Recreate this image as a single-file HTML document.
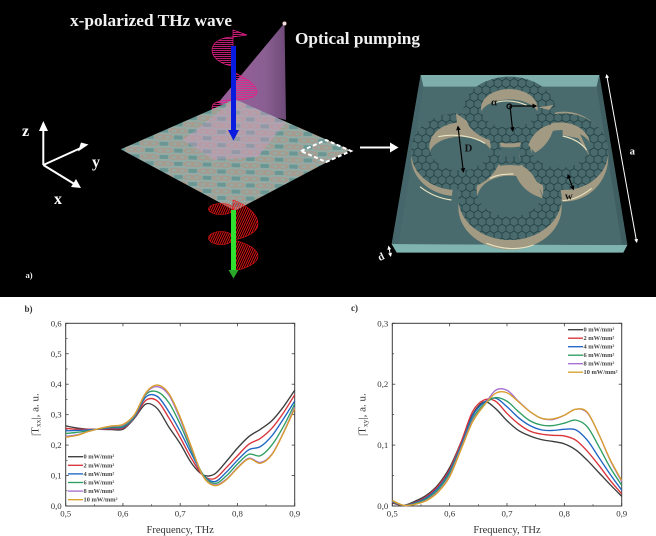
<!DOCTYPE html>
<html lang="en">
<head>
<meta charset="utf-8">
<title>THz metasurface transmission figure</title>
<style>
html,body{margin:0;padding:0;background:#fff;}
svg{display:block;filter:blur(0.3px);}
text{font-family:"Liberation Serif",serif;}
</style>
</head>
<body>
<svg id="figure" xmlns="http://www.w3.org/2000/svg" width="656" height="536" viewBox="0 0 656 536">
<defs>
  <pattern id="tile" patternUnits="userSpaceOnUse" width="1" height="1" patternTransform="matrix(14.4 -6.25 14.4 6.95 120.7 149.3)">
    <rect width="1" height="1" fill="#94aaa5"/>
    <path d="M0 0L0.3 0L0 0.3Z M1 0L1 0.3L0.7 0Z M0 1L0 0.7L0.3 1Z M1 1L0.7 1L1 0.7Z" fill="#6a9794"/>
    <circle cx="0.37" cy="0.37" r="0.21" fill="none" stroke="#a89a8d" stroke-width="0.15"/>
    <circle cx="0.63" cy="0.63" r="0.21" fill="none" stroke="#a89a8d" stroke-width="0.15"/>
  </pattern>
  <pattern id="hex" patternUnits="userSpaceOnUse" width="24" height="41.6">
    <rect width="24" height="41.6" fill="#4a6b6d"/>
    <path d="M0 6.9L12 0L24 6.9V20.8L12 27.7L0 20.8Z M12 27.7V41.6 M12 0" fill="none" stroke="#1c3a3e" stroke-width="2.2"/>
  </pattern>
  <pattern id="pinkHatch" patternUnits="userSpaceOnUse" width="3" height="2">
    <rect width="3" height="0.8" fill="#e8208a"/>
  </pattern>
  <pattern id="redHatch" patternUnits="userSpaceOnUse" width="2" height="2" patternTransform="rotate(25)">
    <rect width="0.9" height="2" fill="#f01414"/>
  </pattern>
  <linearGradient id="coneFill" x1="0" x2="1" y1="0" y2="0">
    <stop offset="0" stop-color="#9a5f9c"/>
    <stop offset="0.7" stop-color="#8a5f92"/>
    <stop offset="1" stop-color="#6e4a78"/>
  </linearGradient>
  <marker id="blackTip" markerWidth="4" markerHeight="4" refX="3" refY="2" orient="auto-start-reverse"><path d="M0 0L4 2L0 4Z" fill="#000"/></marker>
  <marker id="whiteTip" markerWidth="4" markerHeight="4" refX="3" refY="2" orient="auto-start-reverse"><path d="M0 0L4 2L0 4Z" fill="#fff"/></marker>
</defs>

<rect x="0" y="0" width="656" height="297" fill="#000"/>

<g stroke="#fff" stroke-width="2" fill="#fff">
  <line x1="43.3" y1="165" x2="43.3" y2="126"/><path d="M39 131L43.3 121L48 131Z" stroke="none"/>
  <line x1="43.3" y1="165" x2="83" y2="147"/><path d="M78 151.500L88.500 144.500L81 142.500Z" stroke="none"/>
  <line x1="43.3" y1="165" x2="76" y2="185"/><path d="M71 187L81 188L76 179Z" stroke="none"/>
</g>
<g font-weight="700" fill="#fff" font-size="16">
  <text x="22" y="136">z</text>
  <text x="92" y="167">y</text>
  <text x="54" y="204">x</text>
</g>
<text x="70" y="26" font-size="16.500" font-weight="700" fill="#f2f2f2" textLength="162" lengthAdjust="spacingAndGlyphs">x-polarized THz wave</text>
<text x="295" y="44" font-size="16.500" font-weight="700" fill="#f2f2f2" textLength="125" lengthAdjust="spacingAndGlyphs">Optical pumping</text>
<text x="25.500" y="278" font-size="8.500" font-weight="700" fill="#eee">a)</text>

<path d="M284.500 23L286 120L218 103Z" fill="url(#coneFill)"/>
<circle cx="284.500" cy="23.500" r="2" fill="#f5dcdc"/>

<g stroke="#e8208a" stroke-width="0.7">
  <path d="M233 37C222 37 212 42 212 50C212 58 222 65 233 66Z" fill="url(#pinkHatch)"/>
  <path d="M233 30L247 35L233 37Z" fill="url(#pinkHatch)"/>
  <path d="M233 72C246 78 257 85 257 92C257 97 246 100 233 100Z" fill="url(#pinkHatch)"/>
  <path d="M233 100C222 100 212 102 212 107C212 115 222 124 233 127Z" fill="url(#pinkHatch)"/>
</g>

<polygon points="120.700,149.300 235,99.300 350,150 235,210.700" fill="url(#tile)"/>
<polygon points="183,140 235,99.300 286,122 258,157 214,160" fill="#d79ac8" opacity="0.38"/>
<polygon points="301,151 326,140 351,151 326,162" fill="none" stroke="#fff" stroke-width="2" stroke-dasharray="4 2.500"/>

<g stroke="#f01414" stroke-width="0.6">
  <path d="M233 200C248 205 258 215 258 224C258 232 246 238 233 240Z" fill="url(#redHatch)"/>
  <ellipse cx="221" cy="209" rx="12.500" ry="5.500" fill="url(#redHatch)"/>
  <ellipse cx="221" cy="238" rx="12.500" ry="6.500" fill="url(#redHatch)"/>
  <path d="M233 240C248 243 258 250 258 256C258 263 246 269 233 271Z" fill="url(#redHatch)"/>
</g>

<g>
  <rect x="231" y="46" width="5" height="86" fill="#0a1be0"/>
  <path d="M228 130L239 130L233.500 140.500Z" fill="#0a1be0"/>
</g>
<g>
  <rect x="231" y="210" width="5" height="60" fill="#2fe02f"/>
  <path d="M228.500 270L238.500 270L233.500 278.500Z" fill="#2aa82a"/>
</g>

<g>
  <line x1="360" y1="147.500" x2="393" y2="147.500" stroke="#fff" stroke-width="2"/>
  <path d="M390 142.500L398.500 147.500L390 152.500Z" fill="#fff"/>
</g>

<g transform="translate(370 30) scale(0.33333)">
  <polygon points="152,135 688,135 772,645 65,642" fill="#4a6b6d"/>
  <polygon points="152,135 688,135 680,170 160,170" fill="#7eaeac"/>
  <polygon points="152,135 160,170 85,642 65,642" fill="#45666a"/>
  <polygon points="688,135 680,170 755,642 772,645" fill="#3f5f62"/>
  <polygon points="65,642 772,645 760,668 80,668" fill="#80b4b1"/>

  <g fill="#a39a83">
    <ellipse cx="418" cy="252" rx="138" ry="100"/>
    <ellipse cx="258" cy="380" rx="135" ry="118"/>
    <ellipse cx="582" cy="380" rx="133" ry="135"/>
    <ellipse cx="420" cy="532" rx="155" ry="127"/>
  </g>
  <g fill="#4a6b6d">
    <ellipse cx="418" cy="258" rx="88" ry="50"/>
    <ellipse cx="272" cy="378" rx="95" ry="58"/>
    <ellipse cx="575" cy="358" rx="90" ry="58"/>
    <ellipse cx="420" cy="505" rx="98" ry="68"/>
  </g>
  <g fill="url(#hex)" fill-rule="evenodd">
    <path d="M280 240a138 100 0 1 0 276 0a138 100 0 1 0 -276 0Z M333 235a85 58 0 1 0 170 0a85 58 0 1 0 -170 0Z"/>
    <path d="M123 365a135 115 0 1 0 270 0a135 115 0 1 0 -270 0Z M178 350a92 72 0 1 0 184 0a92 72 0 1 0 -184 0Z"/>
    <path d="M449 365a133 115 0 1 0 266 0a133 115 0 1 0 -266 0Z M480 345a90 68 0 1 0 180 0a90 68 0 1 0 -180 0Z"/>
    <path d="M265 505a155 125 0 1 0 310 0a155 125 0 1 0 -310 0Z M320 480a100 80 0 1 0 200 0a100 80 0 1 0 -200 0Z"/>
  </g>
  <g fill="#a39a83">
    <path d="M475 345C490 305 520 285 553 282C548 325 520 355 495 368Z"/>
    <path d="M430 410C470 395 500 440 518 505C470 490 440 460 430 410Z"/>
    <path d="M258 250L290 272L305 312L262 290Z"/>
    <path d="M578 285L625 300L660 380L625 325L578 315Z"/>
    <path d="M550 225L505 232L538 240Z"/>
  </g>
  <g fill="none" stroke="#e8e2c0" stroke-width="3.500">
    <path d="M205 320C250 310 310 318 345 340"/>
    <path d="M578 318C610 325 635 340 650 360"/>
    <path d="M370 220C400 208 440 212 470 226"/>
    <path d="M360 445C385 432 410 432 430 432"/>
    <path d="M350 640C400 660 450 660 490 645"/>
    <path d="M150 470C175 490 205 505 245 510"/>
    <path d="M578 512C610 510 640 495 665 475"/>
  </g>
  <path d="M248 478L268 478L262 512L244 512Z" fill="#4a6b6d"/>

  <g fill="none" stroke="#000" stroke-width="3.500">
    <line x1="264" y1="290" x2="280" y2="425" marker-start="url(#blackTip)" marker-end="url(#blackTip)"/>
    <line x1="594" y1="435" x2="610" y2="478" marker-start="url(#blackTip)" marker-end="url(#blackTip)"/>
    <line x1="420" y1="228" x2="498" y2="228" marker-end="url(#blackTip)"/>
    <line x1="420" y1="228" x2="428" y2="302" marker-end="url(#blackTip)"/>
    <circle cx="418" cy="229" r="7"/>
  </g>
  <line x1="710" y1="135" x2="800" y2="636" stroke="#fff" stroke-width="3" marker-start="url(#whiteTip)" marker-end="url(#whiteTip)"/>
  <line x1="56" y1="650" x2="62" y2="678" stroke="#fff" stroke-width="3" marker-start="url(#whiteTip)" marker-end="url(#whiteTip)"/>
  <g font-weight="700" font-size="32">
    <text x="363" y="226" fill="#111">α</text>
    <text x="284" y="364" fill="#111">D</text>
    <text x="585" y="508" fill="#111">w</text>
    <text x="779" y="374" fill="#f2f2f2">a</text>
    <text x="24" y="690" fill="#f2f2f2" transform="rotate(-25 34 680)">d</text>
  </g>
</g>

<text x="24.500" y="312" font-size="9" font-weight="700" fill="#333">b)</text>
<text x="351" y="311" font-size="9" font-weight="700" fill="#333">c)</text>
<g id="chart-b"></g>
<g id="chart-c"></g>
</svg>

<script>
const frequencies = [0.5,0.52,0.54,0.56,0.58,0.6,0.62,0.64,0.66,0.68,0.7,0.72,0.74,0.76,0.78,0.8,0.82,0.84,0.86,0.88,0.9];
const powerLabels = ["0 mW/mm²","2 mW/mm²","4 mW/mm²","6 mW/mm²","8 mW/mm²","10 mW/mm²"];
const xTickValues = [0.5,0.6,0.7,0.8,0.9];
const txxTickValues = [0,0.1,0.2,0.3,0.4,0.5,0.6];
const txyTickValues = [0,0.1,0.2,0.3];

const txx0 = [.263,.256,.252,.252,.251,.252,.288,.335,.320,.260,.205,.140,.102,.105,.145,.190,.228,.252,.280,.325,.380];
const txx2 = [.255,.252,.252,.252,.254,.256,.290,.347,.345,.290,.225,.155,.100,.090,.125,.165,.203,.222,.255,.305,.365];
const txx4 = [.247,.248,.250,.253,.257,.259,.292,.358,.360,.310,.245,.170,.103,.080,.110,.150,.185,.195,.230,.285,.345];
const txx6 = [.238,.242,.247,.254,.260,.262,.295,.366,.375,.340,.268,.180,.103,.074,.098,.138,.170,.165,.200,.260,.335];
const txx8 = [.229,.234,.245,.255,.262,.266,.298,.370,.392,.365,.285,.188,.098,.069,.087,.126,.157,.143,.170,.240,.325];
const txx10 = [.226,.232,.245,.255,.263,.268,.300,.372,.397,.370,.292,.192,.097,.067,.085,.124,.155,.140,.168,.238,.320];

const txy0 = [.005,.001,.008,.018,.035,.063,.105,.150,.171,.160,.140,.124,.115,.109,.106,.102,.092,.075,.055,.035,.016];
const txy2 = [.006,.001,.006,.016,.033,.060,.105,.155,.174,.172,.152,.135,.123,.118,.116,.115,.108,.090,.067,.042,.020];
const txy4 = [.007,.001,.005,.014,.030,.057,.100,.148,.170,.177,.163,.145,.132,.125,.124,.126,.125,.108,.080,.052,.026];
const txy6 = [.008,.001,.004,.012,.027,.054,.097,.143,.167,.178,.172,.155,.140,.133,.132,.136,.141,.130,.098,.063,.034];
const txy8 = [.009,.001,.003,.010,.024,.050,.095,.140,.165,.190,.190,.172,.155,.144,.142,.149,.159,.153,.118,.075,.040];
const txy10 = [.009,.001,.003,.009,.023,.048,.093,.138,.165,.185,.186,.171,.155,.144,.143,.149,.159,.154,.118,.076,.042];

const seriesColors = ["#3d3d3d","#d8343a","#1f66c4","#2e9e62","#a56fd0","#d9a02c"];
const SVG_NS = "http://www.w3.org/2000/svg";

function makeNode(parent, tag, attrs, content) {
  const node = document.createElementNS(SVG_NS, tag);
  Object.keys(attrs).forEach(function (key) { node.setAttribute(key, attrs[key]); });
  if (content !== undefined) node.textContent = content;
  parent.appendChild(node);
  return node;
}

function smoothPath(points) {
  let d = "M" + points[0][0].toFixed(2) + " " + points[0][1].toFixed(2);
  for (let i = 0; i < points.length - 1; i++) {
    const p0 = points[Math.max(i - 1, 0)];
    const p1 = points[i];
    const p2 = points[i + 1];
    const p3 = points[Math.min(i + 2, points.length - 1)];
    const c1x = p1[0] + (p2[0] - p0[0]) / 6;
    const c1y = p1[1] + (p2[1] - p0[1]) / 6;
    const c2x = p2[0] - (p3[0] - p1[0]) / 6;
    const c2y = p2[1] - (p3[1] - p1[1]) / 6;
    d += "C" + c1x.toFixed(2) + " " + c1y.toFixed(2) + " " + c2x.toFixed(2) + " " + c2y.toFixed(2) + " " + p2[0].toFixed(2) + " " + p2[1].toFixed(2);
  }
  return d;
}

function drawChart(config) {
  const root = document.getElementById(config.id);
  const xScale = function (v) { return config.left + (v - 0.5) / 0.4 * (config.right - config.left); };
  const yScale = function (v) { return config.bottom - v / config.yMax * (config.bottom - config.top); };

  const frame = makeNode(root, "rect", {x: config.left, y: config.top, width: config.right - config.left, height: config.bottom - config.top, fill: "#fff", stroke: "#3c3c3c", "stroke-width": 1});
  
  

  xTickValues.forEach(function (v, i) {
    const x = xScale(v);
    const tick = makeNode(root, "line", {x1: x, x2: x, y1: config.bottom, y2: config.bottom - 3, stroke: "#3c3c3c", "stroke-width": 0.8});
    
    
    const topTick = makeNode(root, "line", {x1: x, x2: x, y1: config.top, y2: config.top + 3, stroke: "#3c3c3c", "stroke-width": 0.8});
    
    
    const label = makeNode(root, "text", {x: x, y: config.bottom + 10.5, "font-size": 8.8, "text-anchor": "middle", fill: "#333"}, v.toFixed(1).replace(".", ","));
    
    
    if (i < xTickValues.length - 1) {
      const mid = xScale(v + 0.05);
      const minor = makeNode(root, "line", {x1: mid, x2: mid, y1: config.bottom, y2: config.bottom - 1.8, stroke: "#3c3c3c", "stroke-width": 0.7});
      
      
    }
  });

  config.yTicks.forEach(function (v, i) {
    const y = yScale(v);
    const tick = makeNode(root, "line", {x1: config.left, x2: config.left + 3, y1: y, y2: y, stroke: "#3c3c3c", "stroke-width": 0.8});
    
    
    const rightTick = makeNode(root, "line", {x1: config.right, x2: config.right - 3, y1: y, y2: y, stroke: "#3c3c3c", "stroke-width": 0.8});
    
    
    const label = makeNode(root, "text", {x: config.left - 4, y: y + 3, "font-size": 8.8, "text-anchor": "end", fill: "#333"}, v.toFixed(1).replace(".", ","));
    
    
    if (i < config.yTicks.length - 1) {
      const midY = yScale(v + (config.yTicks[1] - config.yTicks[0]) / 2);
      const minor = makeNode(root, "line", {x1: config.left, x2: config.left + 1.8, y1: midY, y2: midY, stroke: "#3c3c3c", "stroke-width": 0.7});
      
      
    }
  });

  config.series.forEach(function (values, s) {
    const points = values.map(function (v, i) { return [xScale(frequencies[i]), yScale(v)]; });
    const line = makeNode(root, "path", {d: smoothPath(points), fill: "none", stroke: seriesColors[s], "stroke-width": 1.35, "stroke-linejoin": "round"});
    
    
  });

  powerLabels.forEach(function (text, s) {
    const y = config.legendTop + s * config.legendStep;
    const key = makeNode(root, "line", {x1: config.legendX, x2: config.legendX + 15, y1: y, y2: y, stroke: seriesColors[s], "stroke-width": 1.35});
    
    
    const label = makeNode(root, "text", {x: config.legendX + 15.5, y: y + 2, "font-size": 6.4, "font-weight": 700, fill: "#444"}, text);
    
    
  });

  const xTitle = makeNode(root, "text", {x: (config.left + config.right) / 2, y: config.bottom + 27, "font-size": 10.5, "text-anchor": "middle", fill: "#333"}, "Frequency, THz");
  
  

  const cy = (config.top + config.bottom) / 2;
  const yTitle = makeNode(root, "text", {transform: "translate(" + (config.left - 27) + " " + cy + ") rotate(-90)", "font-size": 11, "text-anchor": "middle", fill: "#333"});
  
  
  makeNode(yTitle, "tspan", {}, "|T");
  makeNode(yTitle, "tspan", {"font-size": 7.5, dy: 2}, config.sub);
  makeNode(yTitle, "tspan", {dy: -2}, "|, a. u.");
}

drawChart({id: "chart-b", left: 65.7, right: 294.7, top: 323.3, bottom: 506, yMax: 0.6, yTicks: txxTickValues, series: [txx0, txx2, txx4, txx6, txx8, txx10], sub: "xx", legendX: 68, legendTop: 456.7, legendStep: 8.6});
drawChart({id: "chart-c", left: 392.3, right: 621.7, top: 323.3, bottom: 506, yMax: 0.3, yTicks: txyTickValues, series: [txy0, txy2, txy4, txy6, txy8, txy10], sub: "xy", legendX: 568, legendTop: 329.7, legendStep: 8.5});
</script>
</body>
</html>
